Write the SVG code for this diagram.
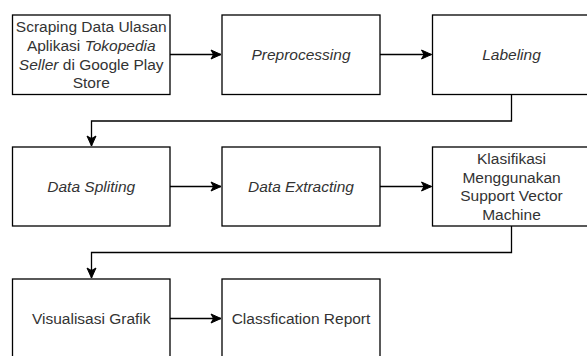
<svg xmlns="http://www.w3.org/2000/svg" width="587" height="356" viewBox="0 0 587 356">
<style>
.box{fill:#fff;stroke:#000;stroke-width:1.3}
.t{font-family:"Liberation Sans",Arial,sans-serif;font-size:15.5px;fill:#333;text-anchor:middle}
.i{font-style:italic}
.c{fill:none;stroke:#000;stroke-width:1.3}
</style>
<defs>
<marker id="arr" markerUnits="userSpaceOnUse" markerWidth="12" markerHeight="12" viewBox="0 0 12 12" refX="11" refY="6" orient="auto">
<path d="M1,1.5 L11,6 L1,10.5 L3.5,6 Z" fill="#000" stroke="#000" stroke-width="1"/>
</marker>
</defs>
<rect width="587" height="356" fill="#fff"/>
<g id="connectors">
<path class="c" d="M170,54.5 H221" marker-end="url(#arr)"/>
<path class="c" d="M380,54.5 H431.5" marker-end="url(#arr)"/>
<path class="c" d="M511.5,94.5 V121 H91.5 V146" marker-end="url(#arr)"/>
<path class="c" d="M170,186.5 H221" marker-end="url(#arr)"/>
<path class="c" d="M380,186.5 H431.5" marker-end="url(#arr)"/>
<path class="c" d="M511.5,226 V252.5 H91.5 V278" marker-end="url(#arr)"/>
<path class="c" d="M170,318.5 H221" marker-end="url(#arr)"/>
</g>
<g id="n1">
<rect class="box" x="12.5" y="15" width="157.5" height="79.5"/>
<text class="t" x="91.25" y="32.3">Scraping Data Ulasan</text>
<text class="t" x="91.25" y="50.9">Aplikasi <tspan class="i">Tokopedia</tspan></text>
<text class="t" x="91.25" y="69.5"><tspan class="i">Seller</tspan> di Google Play</text>
<text class="t" x="91.25" y="88.1">Store</text>
</g>
<g id="n2">
<rect class="box" x="222" y="15" width="158" height="79.5"/>
<text class="t i" x="301" y="60">Preprocessing</text>
</g>
<g id="n3">
<rect class="box" x="432.5" y="15" width="158" height="79.5"/>
<text class="t i" x="511.5" y="60">Labeling</text>
</g>
<g id="n4">
<rect class="box" x="12.5" y="147" width="157.5" height="79"/>
<text class="t i" x="91.25" y="192">Data Spliting</text>
</g>
<g id="n5">
<rect class="box" x="222" y="147" width="158" height="79"/>
<text class="t i" x="301" y="192">Data Extracting</text>
</g>
<g id="n6">
<rect class="box" x="432.5" y="147" width="158" height="79"/>
<text class="t" x="511.5" y="164">Klasifikasi</text>
<text class="t" x="511.5" y="182.6">Menggunakan</text>
<text class="t" x="511.5" y="201.2">Support Vector</text>
<text class="t" x="511.5" y="219.8">Machine</text>
</g>
<g id="n7">
<rect class="box" x="12.5" y="279" width="157.5" height="79"/>
<text class="t" x="91.25" y="324">Visualisasi Grafik</text>
</g>
<g id="n8">
<rect class="box" x="222" y="279" width="158" height="79"/>
<text class="t" x="301" y="324">Classfication Report</text>
</g>
</svg>
